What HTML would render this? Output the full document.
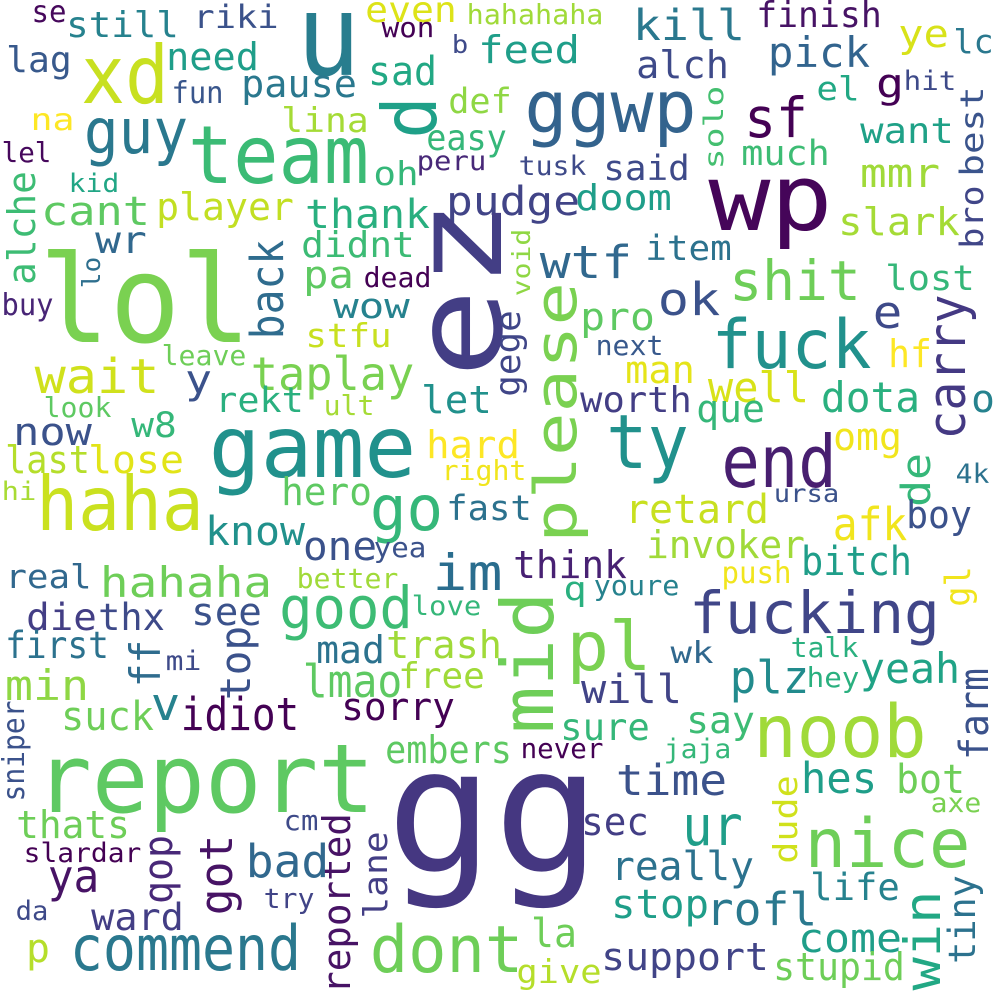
<!DOCTYPE html>
<html>
<head>
<meta charset="utf-8">
<style>
html,body{margin:0;padding:0;background:#fff;}
svg{display:block;}
text{font-family:"DejaVu Sans Mono","Liberation Mono",monospace;}
</style>
</head>
<body>
<svg id="cloud" width="1000" height="1000" viewBox="0 0 1000 1000" xmlns="http://www.w3.org/2000/svg">
<rect width="1000" height="1000" fill="#ffffff"/>
</svg>
<script>
// word list, weight (font size) and colour
const words = ["se","still","riki","u","even","won","b","hahahaha","lag","xd","need","fun","pause","sad","d","na","guy","lina","def","easy","team","lel","oh","peru","kid","alche","cant","player","thank","pudge","wr","didnt","lol","lo","back","pa","dead","buy","wow","ez","stfu","leave","wait","y","taplay","ult","let","look","rekt","now","w8","game","hard","last","lose","right","hi","haha","hero","go","fast",
"kill","finish","feed","alch","pick","ye","lc","ggwp","sf","el","g","hit","best","bro","solo","want","tusk","said","much","mmr","doom","wp","slark","void","wtf","item","lost","ok","shit","e","carry","pro","fuck","next","gege","please","hf","man","well","dota","o","worth","que","ty","end","omg","de","4k","ursa",
"know","one","yea","im","real","hahaha","better","good","love","die","thx","see","first","ff","top","mad","trash","mi","min","lmao","free","suck","v","idiot","sorry","sniper","embers","report","gg","thats","cm","reported","lane","slardar","qop","got","bad","ya","try","da","ward","p","commend","dont",
"retard","afk","boy","invoker","bitch","think","push","q","youre","gl","mid","pl","fucking","talk","wk","yeah","plz","hey","will","farm","sure","say","noob","never","jaja","time","hes","bot","dude","axe","sec","ur","nice","really","life","stop","rofl","tiny","win","la","come","support","stupid","give"];
const sizes = [30,36,32,113,36,28,25,28,36,80,38,30,38,40,75,30,62,34,35,36,80,28,33,27,26,38,40,38,40,40,37,36,121,25,45,38,28,30,35,123,33,28,48,40,46,28,38,28,35,38,35,86,38,38,38,28,26,75,38,62,35,
43,36,38,38,42,38,33,72,55,33,40,27,32,32,27,36,27,35,35,40,36,92,38,25,45,35,35,45,55,45,52,38,68,28,35,58,38,38,42,42,38,36,38,75,72,38,40,27,25,
40,40,28,50,33,42,28,58,27,37,37,38,37,42,42,38,38,27,42,45,36,40,45,45,38,30,38,95,173,38,28,38,33,27,40,45,45,45,28,27,37,40,62,65,
40,45,38,38,40,38,30,33,28,35,72,68,58,28,30,42,45,28,40,40,37,37,73,28,27,43,43,40,33,27,38,55,68,40,37,40,45,37,50,40,40,38,38,33];
const colors = ["#46085c","#26828e","#3b528b","#287d8e","#dde318","#440154","#3e4a89","#a0da39","#38598c","#c8e020","#1f9e89","#39568c","#2a788e","#22a884","#1fa088","#fde725","#2a788e","#a5db36","#8fd744","#35b779","#3bbb75","#46085c","#35b779","#482878","#21a685","#3dbc74","#5ec962","#c2df23","#29af7f","#414487","#31688e","#3cbb75","#7ad151","#2e6f8e","#2f6c8e","#5ec962","#440154","#482576","#26828e","#433e85","#c8e020","#6ece58","#d0e11c","#3b528b","#79d151","#a5db36","#21918c","#5ec962","#2ab07f","#3b528b","#35b779","#21918c","#fde725","#b5de2b","#e2e418","#f1e51d","#a8db34","#cae11f","#5ec962","#35b779","#2c728e",
"#2a788e","#471365","#1f9e89","#3e4a89","#32648e","#d8e219","#2a788e","#33638d","#440154","#22a884","#440154","#3e4a89","#3a548c","#404688","#44bf70","#1fa187","#3e4a89","#3e4a89","#3dbc74","#a0da39","#1f9e89","#450559","#a5db36","#8fd744","#31688e","#2c728e","#35b779","#3b528b","#6ece58","#3e4a89","#443983","#5ec962","#21918c","#38598c","#404688","#7ad151","#fde725","#e5e419","#d8e219","#2ab07f","#26828e","#433e85","#35b779","#21918c","#481f70","#f1e51d","#35b779","#2c728e","#3b528b",
"#21918c","#3b528b","#3b528b","#2a6d8e","#31688e","#6ece58","#a0da39","#3dbc74","#35b779","#433e85","#3e4a89","#3b528b","#2c728e","#2f6c8e","#3b528b","#2c728e","#a0da39","#3e4a89","#8fd744","#5ec962","#a0da39","#6ece58","#26828e","#440154","#440154","#3b528b","#5ec962","#5ec962","#453781","#6ece58","#3e4a89","#471365","#433e85","#440154","#482878","#471365","#31688e","#471365","#414487","#3e4a89","#433e85","#b5de2b","#2a788e","#6ece58",
"#c8e020","#f1e51d","#3b528b","#a0da39","#1f9e89","#482173","#f1e51d","#2ab07f","#26828e","#f1e51d","#6ece58","#7ad151","#404688","#2ab07f","#31688e","#20a386","#228b8d","#2ab07f","#414487","#3b528b","#35b779","#3dbc74","#a0da39","#440154","#35b779","#3b528b","#1f9e89","#6ece58","#d0e11c","#7ad151","#433e85","#1f9e89","#6ece58","#2c728e","#26828e","#1f9e89","#2a788e","#2c728e","#22a884","#6ece58","#1f9e89","#414487","#6ece58","#b5de2b"];
// layout: horizontal [left, right, baseline, 0]; vertical [baselineX, bottomY, topY, 1]
const layout = [[33,65,22,0],[68,177,37,0],[195,277,28,0],[302,355,75,0],[367,455,22,0],[383,433,37,0],[453,467,53,0],[468,602,24,0],[8,70,72,0],[85,165,103,0],[168,257,70,0],[173,222,103,0],[243,355,97,0],[370,435,85,0],[436,135,100,1],[32,73,130,0],[87,185,153,0],[283,367,132,0],[450,510,113,0],[428,505,150,0],[192,365,183,0],[3,50,162,0],[375,417,185,0],[418,485,170,0],[70,118,192,0],[35,283,173,1],[43,148,225,0],[158,292,220,0],[307,428,228,0],[448,578,215,0],[97,145,253,0],[303,413,257,0],[45,245,342,0],[100,287,258,1],[283,337,242,1],[305,352,288,0],[365,430,287,0],[3,52,315,0],[335,408,318,0],[501,372,205,1],[307,390,347,0],[163,245,365,0],[37,157,393,0],[187,210,393,0],[253,412,390,0],[325,373,415,0],[423,490,413,0],[45,110,417,0],[217,302,412,0],[15,90,445,0],[133,175,437,0],[213,412,477,0],[428,518,458,0],[7,88,473,0],[90,182,473,0],[443,525,480,0],[3,35,500,0],[40,200,530,0],[283,370,505,0],[373,440,530,0],[448,530,520,0],
[635,743,40,0],[758,880,27,0],[480,578,63,0],[638,727,78,0],[770,868,67,0],[900,947,47,0],[955,992,53,0],[528,693,132,0],[747,805,137,0],[818,858,100,0],[878,902,97,0],[905,955,90,0],[983,175,88,1],[983,247,187,1],[723,168,87,1],[862,952,143,0],[520,585,175,0],[605,688,180,0],[743,828,165,0],[862,938,187,0],[577,670,210,0],[713,828,230,0],[840,958,235,0],[530,295,230,1],[542,630,278,0],[647,730,260,0],[887,973,290,0],[660,718,315,0],[732,858,300,0],[875,900,328,0],[965,437,297,1],[582,653,330,0],[715,868,368,0],[597,662,355,0],[520,395,312,1],[576,540,285,1],[890,930,367,0],[627,693,383,0],[710,807,402,0],[823,918,412,0],[973,993,412,0],[582,690,412,0],[698,763,422,0],[610,685,468,0],[725,833,487,0],[835,900,450,0],[930,505,455,1],[957,988,483,0],[775,838,502,0],
[207,303,545,0],[305,375,560,0],[375,425,557,0],[435,500,590,0],[7,90,588,0],[102,270,597,0],[298,397,588,0],[282,410,628,0],[413,480,615,0],[28,95,630,0],[100,163,630,0],[193,260,625,0],[7,107,658,0],[160,685,642,1],[250,698,628,1],[318,383,663,0],[388,500,658,0],[167,200,670,0],[7,87,700,0],[305,400,697,0],[400,483,688,0],[63,152,730,0],[153,178,720,0],[183,297,730,0],[343,453,720,0],[24,800,702,1],[387,510,763,0],[40,370,812,0],[395,592,871,0],[18,128,838,0],[285,317,830,0],[350,992,815,1],[387,917,833,1],[25,140,862,0],[172,902,837,1],[232,913,837,1],[248,327,877,0],[50,97,892,0],[265,313,908,0],[17,47,920,0],[93,182,930,0],[28,48,962,0],[73,298,970,0],[373,520,972,0],
[627,767,523,0],[835,905,540,0],[908,970,528,0],[648,803,558,0],[803,910,575,0],[515,625,578,0],[723,790,583,0],[565,585,600,0],[595,678,595,0],[970,605,568,1],[553,730,595,1],[570,648,670,0],[692,937,633,0],[792,857,657,0],[672,712,663,0],[862,958,683,0],[732,807,693,0],[808,858,687,0],[583,680,703,0],[988,758,670,1],[562,648,740,0],[688,753,733,0],[757,923,757,0],[522,602,758,0],[665,730,758,0],[618,725,795,0],[803,875,793,0],[898,963,793,0],[797,862,777,1],[932,980,812,0],[583,647,835,0],[685,740,845,0],[808,967,867,0],[613,752,880,0],[812,898,900,0],[613,707,918,0],[708,815,925,0],[975,962,877,1],[940,988,893,1],[533,575,947,0],[800,900,952,0],[603,767,970,0],[775,903,980,0],[518,600,983,0]];

const svg = document.getElementById('cloud');
const NS = 'http://www.w3.org/2000/svg';
for (let i = 0; i < words.length; i++) {
  const s = sizes[i];
  const L = layout[i];
  const t = document.createElementNS(NS, 'text');
  t.textContent = words[i];
  t.setAttribute('font-size', s);
  t.setAttribute('fill', colors[i]);
  t.setAttribute('lengthAdjust', 'spacingAndGlyphs');
  if (L[3] === 0) {
    const pad = 0.05 * s;
    t.setAttribute('x', L[0] - pad);
    t.setAttribute('y', L[2]);
    t.setAttribute('textLength', Math.max(4, L[1] - L[0] + 2 * pad));
  } else {
    const pad = 0.05 * s;
    t.setAttribute('transform', 'translate(' + L[0] + ',' + (L[1] + pad) + ') rotate(-90)');
    t.setAttribute('textLength', Math.max(4, L[1] - L[2] + 2 * pad));
  }
  
  
  svg.appendChild(t);
}
</script>
</body>
</html>
